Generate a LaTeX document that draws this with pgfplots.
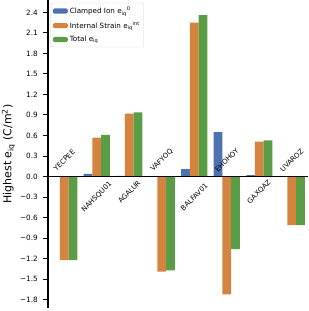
\documentclass[border=0pt]{standalone}
\usepackage{fontspec}
\setmainfont{DejaVu Sans}
\usepackage{pgfplots}
\pgfplotsset{compat=1.18}
\definecolor{cblue}{RGB}{76,114,176}
\definecolor{corange}{RGB}{212,132,62}
\definecolor{cgreen}{RGB}{90,157,70}
\begin{document}
\begin{tikzpicture}
\useasboundingbox (0,0) rectangle (309bp,311bp);
\begin{axis}[
  at={(48bp,3bp)}, anchor=south west,
  scale only axis, width=260bp, height=308bp,
  xmin=-0.5, xmax=7.5, ymin=-1.92, ymax=2.58,
  axis x line=none, axis y line*=left,
  y axis line style={line width=1.3bp, black},
  ytick={-1.8,-1.5,-1.2,-0.9,-0.6,-0.3,0,0.3,0.6,0.9,1.2,1.5,1.8,2.1,2.4},
  yticklabels={−1.8,−1.5,−1.2,−0.9,−0.6,−0.3,0.0,0.3,0.6,0.9,1.2,1.5,1.8,2.1,2.4},
  tick align=outside, major tick length=5bp,
  ytick style={line width=1bp, black},
  yticklabel style={font=\fontsize{7.3}{8.5}\selectfont, inner sep=1bp, xshift=-4bp},
  ylabel={Highest e\textsubscript{iq} (C/m\textsuperscript{2})},
  ylabel style={font=\fontsize{11}{13}\selectfont, at={(axis description cs:-0.152,0.5)}, anchor=center},
  ybar=0pt, bar width=0.2667,
  clip=false,
  legend cell align=left,
  legend image code/.code={\fill[#1] (0bp,-2.6bp) rectangle (15bp,2.6bp);},
  legend style={at={(axis description cs:0.01,0.991)}, anchor=north west,
    draw={rgb,255:red,210;green,210;blue,210}, rounded corners=1.5bp,
    font=\fontsize{7.2}{8.5}\selectfont, inner xsep=2bp, inner ysep=2bp,
    row sep=2.3bp},
]
\addplot[fill=cblue, draw=none, bar shift=-0.2667] coordinates {
  (0,0.0) (1,0.04) (2,0.01) (3,0.0) (4,0.11) (5,0.65) (6,0.02) (7,0.0)};
\addlegendentry{Clamped Ion e\textsubscript{iq}\textsuperscript{0}}
\addplot[fill=corange, draw=none, bar shift=0] coordinates {
  (0,-1.22) (1,0.57) (2,0.92) (3,-1.39) (4,2.25) (5,-1.72) (6,0.51) (7,-0.71)};
\addlegendentry{Internal Strain e\textsubscript{iq}\textsuperscript{int}}
\addplot[fill=cgreen, draw=none, bar shift=0.2667] coordinates {
  (0,-1.22) (1,0.61) (2,0.94) (3,-1.37) (4,2.36) (5,-1.06) (6,0.53) (7,-0.71)};
\addlegendentry{Total e\textsubscript{iq}}
\draw[black, line width=1.3bp] (axis cs:-0.5,0) -- (axis cs:7.5,0);
\begin{scope}[every node/.style={rotate=45, font=\fontsize{7}{8}\selectfont, inner sep=0pt, anchor=center}]
\node at (axis cs:0,0.237) {YECPEE};
\node at (axis cs:1,-0.297) {NAHSQU01};
\node at (axis cs:2,-0.224) {AGALUR};
\node at (axis cs:3,0.237) {VAFYOQ};
\node at (axis cs:4,-0.297) {BALFAV01};
\node at (axis cs:5,0.237) {EHOHOY};
\node at (axis cs:6,-0.224) {GAXQAZ};
\node at (axis cs:7,0.237) {UVAROZ};
\end{scope}
\end{axis}
\end{tikzpicture}
\end{document}
